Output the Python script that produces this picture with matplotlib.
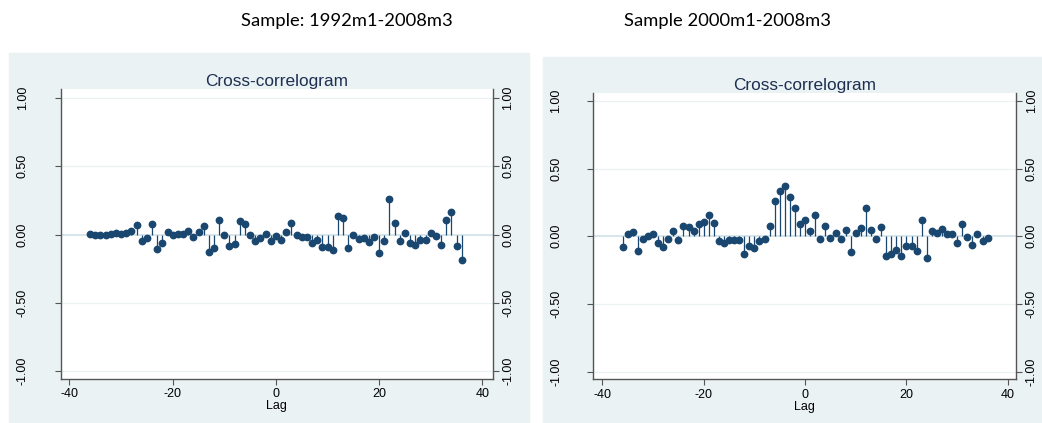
import matplotlib
matplotlib.use('Agg')
import matplotlib.pyplot as plt
import matplotlib.transforms as mtrans
from matplotlib.patches import Rectangle

lags = list(range(-36, 37))

# Sample: 1992m1-2008m3
ccf_full = [0.005, 0.0, -0.002, 0.0, 0.005, 0.010, 0.007, 0.012, 0.027, 0.068,
            -0.049, -0.027, 0.078, -0.105, -0.059, 0.017, -0.005, 0.005, 0.007, 0.029,
            -0.017, 0.020, 0.061, -0.129, -0.098, 0.107, -0.005, -0.083, -0.066, 0.098,
            0.078, -0.002, -0.044, -0.022, 0.005, -0.044, -0.012, -0.040, 0.020, 0.082,
            -0.007, -0.020, -0.018, -0.063, -0.039, -0.088, -0.088, -0.110, 0.137, 0.122,
            -0.098, -0.007, -0.034, -0.029, -0.054, -0.015, -0.134, -0.044, 0.259, 0.083,
            -0.049, 0.012, -0.063, -0.080, -0.042, -0.037, 0.012, -0.012, -0.076, 0.105,
            0.164, -0.085, -0.183]

# Sample 2000m1-2008m3
ccf_recent = [-0.081, 0.017, 0.032, -0.108, -0.022, 0.005, 0.017, -0.047, -0.081, -0.017,
              0.039, -0.030, 0.074, 0.067, 0.042, 0.089, 0.103, 0.155, 0.096, -0.032,
              -0.049, -0.030, -0.030, -0.027, -0.130, -0.069, -0.086, -0.037, -0.017, 0.074,
              0.261, 0.337, 0.372, 0.291, 0.209, 0.094, 0.123, 0.042, 0.160, -0.021,
              0.076, -0.010, 0.027, -0.020, 0.049, -0.118, 0.027, 0.062, 0.212, 0.044,
              -0.022, 0.069, -0.145, -0.128, -0.103, -0.145, -0.074, -0.069, -0.111, 0.123,
              -0.160, 0.039, 0.027, 0.054, 0.020, 0.020, -0.047, 0.094, -0.002, -0.062,
              0.017, -0.032, -0.015]

yticks = [-1.0, -0.5, 0.0, 0.5, 1.0]
ytick_labels = ['-1.00', '-0.50', '0.00', '0.50', '1.00']
xticks = [-40, -20, 0, 20, 40]

bg = '#eaf2f3'
navy = '#1a476f'
axis_col = '#555555'

W, H = 1042, 423
fig = plt.figure(figsize=(10.42, 4.23), dpi=100)
fig.patch.set_facecolor('white')

# graph regions (stata style light bluish gray)
fig.patches.append(Rectangle((9 / W, 0), (529 - 9) / W, (H - 53) / H,
                             transform=fig.transFigure, color=bg, zorder=-5))
fig.patches.append(Rectangle((543 / W, 0), (W - 543) / W, (H - 57) / H,
                             transform=fig.transFigure, color=bg, zorder=-5))

fig.text(347 / W, 1 - 21 / H, 'Sample: 1992m1-2008m3', ha='center', va='center',
         fontsize=13.2, family='Lato')
fig.text(728 / W, 1 - 21 / H, 'Sample 2000m1-2008m3', ha='center', va='center',
         fontsize=13.2, family='Lato')


def panel(box, data, xlim, ylim, lpad):
    l, t, r, b = box
    ax = fig.add_axes([l / W, 1 - b / H, (r - l) / W, (b - t) / H])
    ax.set_facecolor('white')
    for y in yticks:
        ax.axhline(y, color=bg, lw=0.9, zorder=1)
    ax.axhline(0, color='#d8e6ec', lw=1.4, zorder=1)
    ax.vlines(lags, 0, data, color=navy, lw=0.9, zorder=2)
    ax.plot(lags, data, 'o', color=navy, ms=4.6, zorder=3)
    ax.set_xlim(*xlim)
    ax.set_ylim(*ylim)
    ax.set_xticks(xticks)
    ax.set_xticklabels([str(x) for x in xticks], family='Liberation Sans', fontsize=9)
    ax.set_yticks(yticks)
    ax.set_yticklabels(ytick_labels, rotation=90, va='center',
                       family='Liberation Sans', fontsize=9)
    ax.tick_params(axis='y', left=True, right=True, labelleft=True,
                   labelright=True, length=4, color=axis_col, width=0.8, pad=lpad)
    ax.tick_params(axis='x', length=4, color=axis_col, width=0.8, pad=3)
    ax.spines['top'].set_visible(False)
    for s in ['left', 'right', 'bottom']:
        ax.spines[s].set_color(axis_col)
        ax.spines[s].set_linewidth(1.0)
    for tick in ax.yaxis.get_major_ticks():
        tick.label2.set_rotation(90)
        tick.label2.set_va('center')
        tick.label2.set_fontfamily('Liberation Sans')
        tick.label2.set_fontsize(9)
    ax.set_xlabel('Lag', family='Liberation Sans', fontsize=9, labelpad=0)
    ax.set_title('Cross-correlogram', family='Liberation Sans', fontsize=12.4,
                 color='#1e2f52', pad=1.5)
    return ax


ax1 = panel((60.7, 89, 492.7, 378.7), ccf_full, (-41.7, 42.0), (-1.056, 1.066), 19)
ax2 = panel((592.7, 92.7, 1016, 379.3), ccf_recent, (-41.9, 41.6), (-1.057, 1.061), 18)

# right side labels sit close to the axis, left ones far away
for ax, shift in [(ax1, -16), (ax2, -15)]:
    off = mtrans.ScaledTranslation(shift / 72, 0, fig.dpi_scale_trans)
    for tick in ax.yaxis.get_major_ticks():
        tick.label2.set_transform(tick.label2.get_transform() + off)

fig.savefig('out.png', dpi=100)
